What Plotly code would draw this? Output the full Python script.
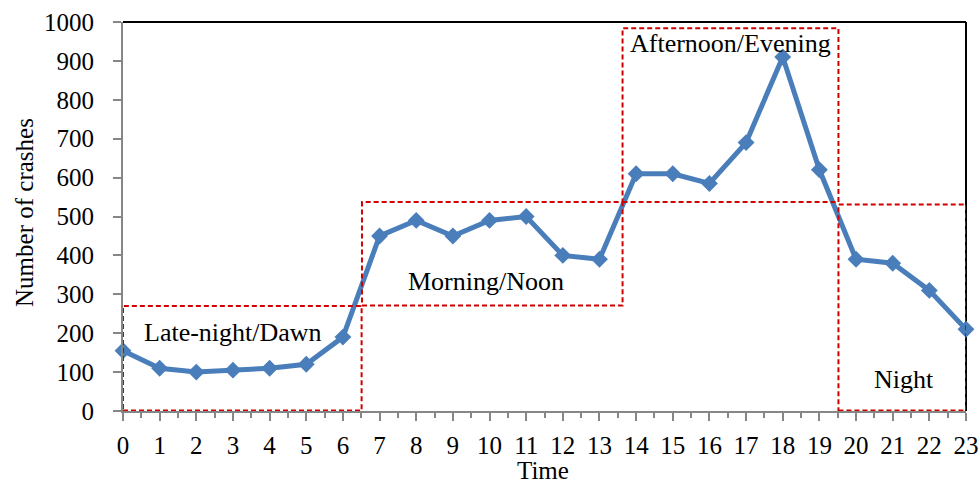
import plotly.graph_objects as go

# Hourly crash counts
hours = list(range(24))
crashes = [155, 110, 100, 105, 110, 120, 190, 450, 490, 450, 490, 500,
           400, 390, 610, 610, 585, 690, 910, 620, 390, 380, 310, 210]

# Period boxes: name, x-start, x-end, y-bottom, y-top
period_names = ["Late-night/Dawn", "Morning/Noon", "Afternoon/Evening", "Night"]
period_x0 = [0.0, 6.52, 13.63, 19.52]
period_x1 = [6.51, 13.63, 19.52, 23.0]
period_y0 = [1, 271, 537, 1]
period_y1 = [270, 537, 984, 531]
# label anchor points (data coordinates)
label_x = [3.0, 9.9, 16.57, 21.3]
label_y = [203, 332, 945, 80]

FONT = "Liberation Serif, Times New Roman, serif"
BLUE = "#4A7EBB"
RED = "#D00000"
GRAY = "#868686"

fig = go.Figure()
fig.add_trace(go.Scatter(
    x=hours, y=crashes, mode="lines+markers",
    line=dict(color=BLUE, width=5),
    marker=dict(symbol="diamond", size=13, color=BLUE),
    showlegend=False, cliponaxis=False,
))

for x0, x1, y0, y1 in zip(period_x0, period_x1, period_y0, period_y1):
    fig.add_shape(type="rect", x0=x0, x1=x1, y0=y0, y1=y1,
                  xref="x", yref="y",
                  line=dict(color=RED, width=2, dash="5px,3px"),
                  layer="above")

for name, lx, ly in zip(period_names, label_x, label_y):
    fig.add_annotation(x=lx, y=ly, xref="x", yref="y", text=name,
                       showarrow=False,
                       font=dict(family=FONT, size=26, color="#000000"))

# axis titles
fig.add_annotation(x=0.498, y=-0.152, xref="paper", yref="paper", text="Time",
                   showarrow=False, xanchor="center", yanchor="middle",
                   borderpad=0,
                   font=dict(family=FONT, size=25, color="#000000"))
fig.add_annotation(x=-0.1163, y=0.5116, xref="paper", yref="paper",
                   text="Number of crashes", textangle=-90,
                   showarrow=False, xanchor="center", yanchor="middle",
                   font=dict(family=FONT, size=25, color="#000000"))

# plot-area frame on top and right
fig.add_shape(type="line", xref="paper", yref="paper", x0=0, x1=1, y0=1, y1=1,
              line=dict(color="#000000", width=2), layer="above")
fig.add_shape(type="line", xref="paper", yref="paper", x0=1, x1=1, y0=0, y1=1,
              line=dict(color="#000000", width=2), layer="below")

fig.update_layout(
    width=980, height=483,
    margin=dict(l=123, r=14, t=22, b=72),
    paper_bgcolor="white", plot_bgcolor="white",
    font=dict(family=FONT, size=25, color="#000000"),
    xaxis=dict(
        range=[0, 23], tickmode="linear", tick0=0, dtick=1,
        showgrid=False, zeroline=False, automargin=False,
        showline=True, linecolor=GRAY, linewidth=2,
        ticks="outside", ticklen=8, tickwidth=2, tickcolor=GRAY,
        minor=dict(tick0=0.5, dtick=1, ticks="outside", ticklen=5,
                   tickwidth=2, tickcolor=GRAY, showgrid=False),
        tickfont=dict(family=FONT, size=25),
        ticklabelstandoff=3,
    ),
    yaxis=dict(
        range=[0, 1000], tickmode="linear", tick0=0, dtick=100,
        showgrid=False, zeroline=False, automargin=False,
        showline=True, linecolor=GRAY, linewidth=2,
        ticks="outside", ticklen=8, tickwidth=2, tickcolor=GRAY,
        tickfont=dict(family=FONT, size=25),
        ticklabelstandoff=14,
    ),
)

fig.write_html("out.html")
